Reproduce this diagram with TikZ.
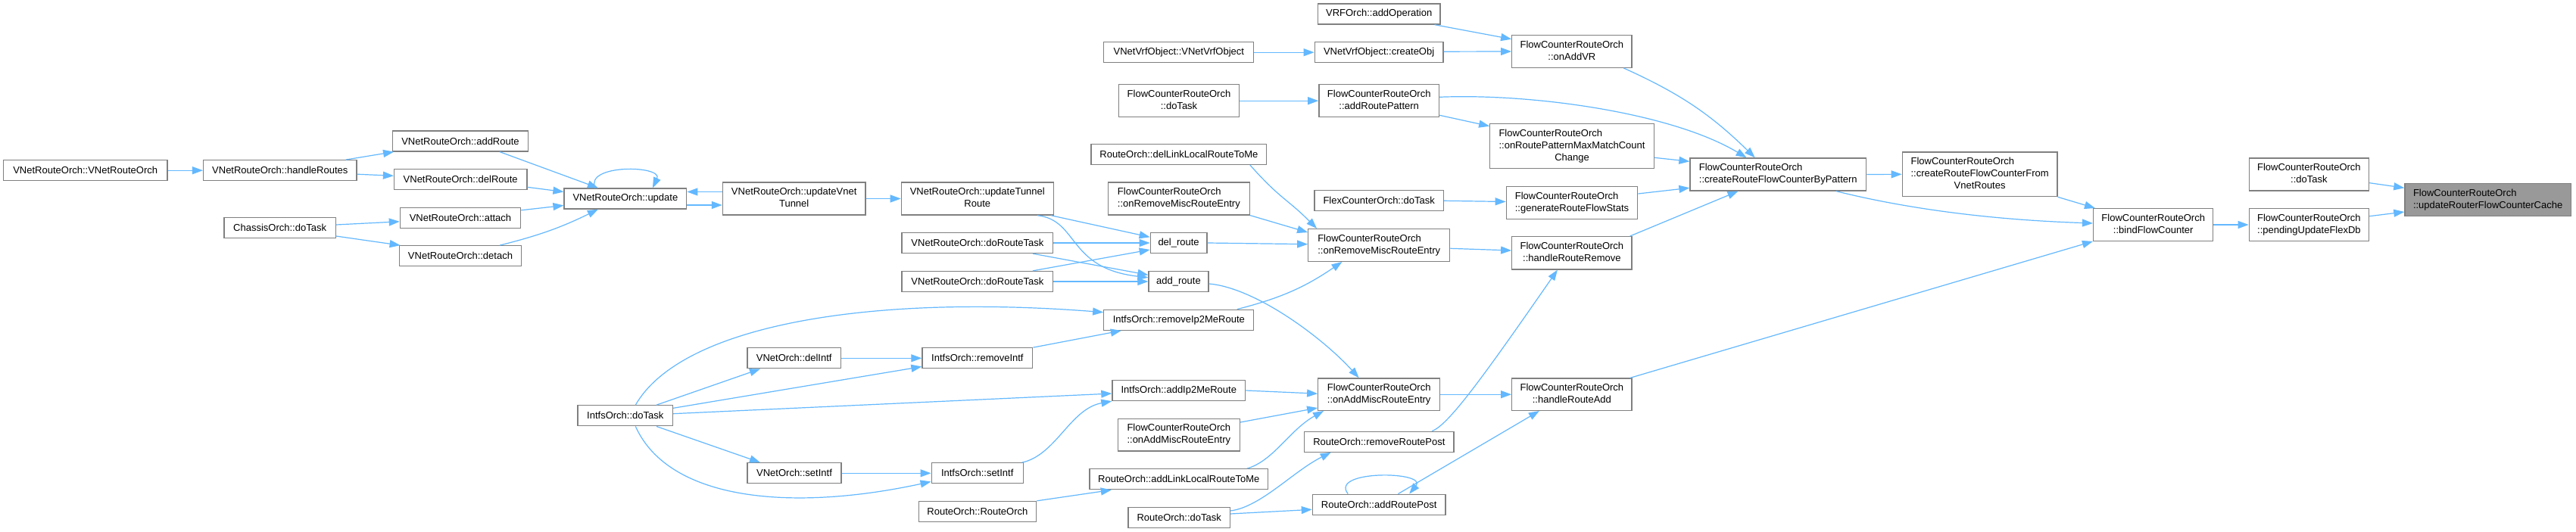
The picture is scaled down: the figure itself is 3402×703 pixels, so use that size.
\documentclass[tikz,border=0pt]{standalone}
\usepackage{fontspec}
\setmainfont{Liberation Sans}
\usetikzlibrary{arrows.meta}
\definecolor{edgeblue}{HTML}{63B8FF}
\definecolor{boxgray}{HTML}{808080}
\definecolor{tgtfill}{HTML}{999999}
\newcommand\twol[2]{\begin{tabular}{@{}l@{}}#1\\\multicolumn{1}{@{}c@{}}{#2}\end{tabular}}
\newcommand\threel[3]{\begin{tabular}{@{}l@{}}#1\\#2\\\multicolumn{1}{@{}c@{}}{#3}\end{tabular}}
\begin{document}
\begin{tikzpicture}[x=1pt,y=-1pt,
  box/.style={draw=boxgray,line width=1.3pt,fill=white,inner sep=0pt,
    font=\fontsize{13}{16}\selectfont,text=black},
  edge/.style={draw=edgeblue,line width=1.2pt,-{Triangle[length=14pt,width=10pt]}}]
\fill[white] (0,0) rectangle (3402,703);
\useasboundingbox (0,0) rectangle (3402,703);
% nodes
\node[box,minimum width=216.5pt,minimum height=27pt] (vnro) at (112.7,225.2) {VNetRouteOrch::VNetRouteOrch};
\node[box,minimum width=202.4pt,minimum height=27pt] (hr) at (369.8,225.2) {VNetRouteOrch::handleRoutes};
\node[box,minimum width=147.2pt,minimum height=26.6pt] (chassis) at (369.6,301) {ChassisOrch::doTask};
\node[box,minimum width=178.6pt,minimum height=27pt] (addr) at (608,186.5) {VNetRouteOrch::addRoute};
\node[box,minimum width=175.3pt,minimum height=27pt] (delr) at (608.2,237.3) {VNetRouteOrch::delRoute};
\node[box,minimum width=159.3pt,minimum height=27pt] (attach) at (608,287.8) {VNetRouteOrch::attach};
\node[box,minimum width=161.5pt,minimum height=27pt] (detach) at (608,338.3) {VNetRouteOrch::detach};
\node[box,minimum width=161.7pt,minimum height=27pt] (upd) at (825.9,262.5) {VNetRouteOrch::update};
\node[box,minimum width=188.6pt,minimum height=43pt] (uvt) at (1048.7,262.5) {\twol{VNetRouteOrch::updateVnet}{Tunnel}};
\node[box,minimum width=200.9pt,minimum height=43pt] (utr) at (1290.8,262.5) {\twol{VNetRouteOrch::updateTunnel}{Route}};
\node[box,minimum width=199.8pt,minimum height=27pt] (drt1) at (1290.9,321) {VNetRouteOrch::doRouteTask};
\node[box,minimum width=199.8pt,minimum height=27pt] (drt2) at (1290.9,372) {VNetRouteOrch::doRouteTask};
\node[box,minimum width=74.7pt,minimum height=27pt] (delroute) at (1556.6,321) {del\_route};
\node[box,minimum width=79pt,minimum height=27pt] (addroute) at (1556.5,372) {add\_route};
\node[box,minimum width=198pt,minimum height=27pt] (vvo) at (1556.8,69.2) {VNetVrfObject::VNetVrfObject};
\node[box,minimum width=159.1pt,minimum height=43pt] (fdt1) at (1557,133.2) {\twol{FlowCounterRouteOrch}{::doTask}};
\node[box,minimum width=231.7pt,minimum height=27pt] (dllr) at (1556.9,204) {RouteOrch::delLinkLocalRouteToMe};
\node[box,minimum width=187.2pt,minimum height=43pt] (ormL) at (1556.9,262.5) {\twol{FlowCounterRouteOrch}{::onRemoveMiscRouteEntry}};
\node[box,minimum width=198pt,minimum height=27pt] (rip) at (1556.8,422.8) {IntfsOrch::removeIp2MeRoute};
\node[box,minimum width=145.8pt,minimum height=27pt] (rintf) at (1290.9,473.3) {IntfsOrch::removeIntf};
\node[box,minimum width=175.7pt,minimum height=27pt] (aip) at (1556.8,516) {IntfsOrch::addIp2MeRoute};
\node[box,minimum width=160.9pt,minimum height=42.7pt] (oamL) at (1556.8,574.7) {\twol{FlowCounterRouteOrch}{::onAddMiscRouteEntry}};
\node[box,minimum width=121pt,minimum height=27pt] (isi) at (1290.7,625.3) {IntfsOrch::setIntf};
\node[box,minimum width=235.7pt,minimum height=27pt] (allr) at (1556.8,633.3) {RouteOrch::addLinkLocalRouteToMe};
\node[box,minimum width=155.4pt,minimum height=27pt] (ror) at (1290.9,676) {RouteOrch::RouteOrch};
\node[box,minimum width=134.3pt,minimum height=27pt] (rdt) at (1557.2,684) {RouteOrch::doTask};
\node[box,minimum width=125.4pt,minimum height=27pt] (idt) at (825.8,549.3) {IntfsOrch::doTask};
\node[box,minimum width=123.6pt,minimum height=27pt] (vdi) at (1048.7,473.3) {VNetOrch::delIntf};
\node[box,minimum width=124pt,minimum height=27pt] (vsi) at (1049,625.3) {VNetOrch::setIntf};
\node[box,minimum width=161.7pt,minimum height=27pt] (vrf) at (1821.2,18.5) {VRFOrch::addOperation};
\node[box,minimum width=169.8pt,minimum height=27pt] (vco) at (1821.1,69.2) {VNetVrfObject::createObj};
\node[box,minimum width=158.3pt,minimum height=42.6pt] (oavr) at (2075.9,68) {\twol{FlowCounterRouteOrch}{::onAddVR}};
\node[box,minimum width=158.7pt,minimum height=43pt] (arp) at (1821.2,133.2) {\twol{FlowCounterRouteOrch}{::addRoutePattern}};
\node[box,minimum width=216.5pt,minimum height=59pt] (orpm) at (2076,193.2) {\threel{FlowCounterRouteOrch}{::onRoutePatternMaxMatchCount}{Change}};
\node[box,minimum width=170.5pt,minimum height=27pt] (fcdt) at (1821.2,265.3) {FlexCounterOrch::doTask};
\node[box,minimum width=173.5pt,minimum height=42.6pt] (grfs) at (2076,268) {\twol{FlowCounterRouteOrch}{::generateRouteFlowStats}};
\node[box,minimum width=186.9pt,minimum height=42.6pt] (orm) at (1821.2,324) {\twol{FlowCounterRouteOrch}{::onRemoveMiscRouteEntry}};
\node[box,minimum width=158.3pt,minimum height=43.3pt] (hrr) at (2075.9,334.3) {\twol{FlowCounterRouteOrch}{::handleRouteRemove}};
\node[box,minimum width=160.9pt,minimum height=42.3pt] (oam) at (1821.2,521.2) {\twol{FlowCounterRouteOrch}{::onAddMiscRouteEntry}};
\node[box,minimum width=158.3pt,minimum height=42.3pt] (hra) at (2075.9,521.2) {\twol{FlowCounterRouteOrch}{::handleRouteAdd}};
\node[box,minimum width=197.6pt,minimum height=27pt] (rrp) at (1821.3,583.7) {RouteOrch::removeRoutePost};
\node[box,minimum width=175.7pt,minimum height=27pt] (arpost) at (1821.2,666.7) {RouteOrch::addRoutePost};
\node[box,minimum width=232.6pt,minimum height=43pt] (crbp) at (2348.3,230.5) {\twol{FlowCounterRouteOrch}{::createRouteFlowCounterByPattern}};
\node[box,minimum width=204.6pt,minimum height=58.7pt] (crfv) at (2614.6,230.3) {\threel{FlowCounterRouteOrch}{::createRouteFlowCounterFrom}{VnetRoutes}};
\node[box,minimum width=158.2pt,minimum height=42.6pt] (bfc) at (2843.7,297) {\twol{FlowCounterRouteOrch}{::bindFlowCounter}};
\node[box,minimum width=158.3pt,minimum height=43pt] (fdt2) at (3049.4,230.5) {\twol{FlowCounterRouteOrch}{::doTask}};
\node[box,minimum width=158.3pt,minimum height=42.6pt] (pufd) at (3049.4,297) {\twol{FlowCounterRouteOrch}{::pendingUpdateFlexDb}};
\node[box,fill=tgtfill,minimum width=219.4pt,minimum height=42.6pt] (tgt) at (3285.6,264) {\twol{FlowCounterRouteOrch}{::updateRouterFlowCounterCache}};
% edges
\draw[edge] (vnro.east) -- (hr.west);
\draw[edge] ([shift={(87,0)}]hr.north) -- ([shift={(2,0)}]addr.south west);
\draw[edge] ([shift={(0,5)}]hr.east) -- ([shift={(0,-5)}]delr.west);
\draw[edge] ([shift={(0,-4)}]chassis.east) -- ([shift={(0,5)}]attach.west);
\draw[edge] ([shift={(0,11)}]chassis.east) -- ([shift={(2,0)}]detach.north west);
\draw[edge] ([shift={(52,0)}]addr.south) -- ([shift={(-36,0)}]upd.north);
\draw[edge] ([shift={(0,10)}]delr.east) -- ([shift={(0,-9)}]upd.west);
\draw[edge] ([shift={(0,-10)}]attach.east) -- ([shift={(0,9)}]upd.west);
\draw[edge] ([shift={(52,0)}]detach.north) to[bend right=6] ([shift={(-36,0)}]upd.south);
\draw[edge] ([shift={(-40,0)}]upd.north) .. controls +(-14,-32) and +(14,-30) .. ([shift={(36,0)}]upd.north);
\draw[edge] ([shift={(0,-9)}]uvt.west) -- ([shift={(0,-9)}]upd.east);
\draw[edge] ([shift={(0,8.5)}]upd.east) -- ([shift={(0,8.5)}]uvt.west);
\draw[edge] (uvt.east) -- (utr.west);
\draw[edge] ([shift={(97,0)}]utr.south) -- ([shift={(0,-7.7)}]delroute.west);
\draw[edge] ([shift={(79,0)}]utr.south) .. controls +(55,6) and +(-107,-12) .. ([shift={(0,-5.3)}]addroute.west);
\draw[edge] (drt1.east) -- (delroute.west);
\draw[edge] ([shift={(73,0)}]drt1.south) -- ([shift={(0,-8.7)}]addroute.west);
\draw[edge] ([shift={(73,0)}]drt2.north) -- ([shift={(0,9)}]delroute.west);
\draw[edge] (drt2.east) -- (addroute.west);
\draw[edge] (delroute.east) -- ([shift={(0,-1.3)}]orm.west);
\draw[edge] ([shift={(0,3)}]addroute.east) .. controls +(60,5) and +(-50,-55) .. ([shift={(-26.5,0)}]oam.north);
\draw[edge] ([shift={(94,0)}]dllr.south) .. controls +(40,45) and +(-40,-40) .. ([shift={(12,0)}]orm.north west);
\draw[edge] (ormL.south east) -- ([shift={(0,5)}]orm.north west);
\draw[edge] ([shift={(77,0)}]rip.north) to[bend right=10] ([shift={(-48.7,0)}]orm.south);
\draw[edge] ([shift={(13.5,0)}]idt.north) .. controls +(61,-106) and +(-308,-24) .. ([shift={(0,4)}]rip.north west);
\draw[edge] ([shift={(41.2,0)}]idt.north) -- ([shift={(-44.7,0)}]vdi.south);
\draw[edge] ([shift={(0,-10)}]idt.east) -- ([shift={(0,-3)}]rintf.south west);
\draw[edge] ([shift={(0,-2.6)}]idt.east) -- ([shift={(0,4)}]aip.west);
\draw[edge] ([shift={(41.2,0)}]idt.south) -- ([shift={(-45,0)}]vsi.north);
\draw[edge] ([shift={(13.5,0)}]idt.south) .. controls +(45,100) and +(-180,39) .. ([shift={(0,-3)}]isi.south west);
\draw[edge] (vdi.east) -- (rintf.west);
\draw[edge] (rintf.north east) -- ([shift={(-76,0)}]rip.south);
\draw[edge] (vsi.east) -- (isi.west);
\draw[edge] ([shift={(-2,0)}]isi.north east) .. controls +(45,-10) and +(-55,10) .. (aip.south west);
\draw[edge] (aip.east) -- ([shift={(0,-1)}]oam.west);
\draw[edge] ([shift={(0,-16.7)}]oamL.east) -- ([shift={(0,17.8)}]oam.west);
\draw[edge] ([shift={(90,0)}]allr.north) .. controls +(35,-10) and +(-45,25) .. ([shift={(8,0)}]oam.south west);
\draw[edge] (ror.north east) -- ([shift={(-89,0)}]allr.south);
\draw[edge] ([shift={(0,-9)}]rdt.east) .. controls +(40,-5) and +(-50,25) .. ([shift={(-63.6,0)}]rrp.south);
\draw[edge] ([shift={(0,-5)}]rdt.east) -- ([shift={(0,6.6)}]arpost.west);
\draw[edge] ([shift={(-41,0)}]arpost.north) .. controls +(-25,-32) and +(25,-30) .. ([shift={(40,0)}]arpost.north);
\draw[edge] ([shift={(25.3,0)}]arpost.north) -- ([shift={(-43,0)}]hra.south);
\draw[edge] ([shift={(70,0)}]rrp.north) .. controls +(22,-8) and +(-95,137) .. ([shift={(-19,0)}]hrr.south);
\draw[edge] (oam.east) -- (hra.west);
\draw[edge] ([shift={(0,4.3)}]orm.east) -- ([shift={(0,-3.3)}]hrr.west);
\draw[edge] ([shift={(73.4,0)}]vrf.south) -- ([shift={(0,-16.3)}]oavr.west);
\draw[edge] (vvo.east) -- (vco.west);
\draw[edge] ([shift={(0,-1)}]vco.east) -- (oavr.west);
\draw[edge] (fdt1.east) -- (arp.west);
\draw[edge] ([shift={(0,19.1)}]arp.east) -- ([shift={(0,-26.5)}]orpm.west);
\draw[edge] ([shift={(0,-4.9)}]arp.east) .. controls +(120,-5) and +(-100,-60) .. ([shift={(-41.7,0)}]crbp.north);
\draw[edge] ([shift={(68.4,0)}]oavr.south) to[bend left=10] ([shift={(-30.6,0)}]crbp.north);
\draw[edge] ([shift={(0,15.1)}]orpm.east) -- ([shift={(0,-17.2)}]crbp.west);
\draw[edge] (fcdt.east) -- ([shift={(0,-1.5)}]grfs.west);
\draw[edge] ([shift={(0,-12)}]grfs.east) -- ([shift={(0,17.8)}]crbp.west);
\draw[edge] ([shift={(-3,0)}]hrr.north east) -- ([shift={(-52.8,0)}]crbp.south);
\draw[edge] (crbp.east) -- (crfv.west);
\draw[edge] ([shift={(76.7,0)}]crbp.south) .. controls +(80,20) and +(-150,-5) .. ([shift={(0,-2)}]bfc.west);
\draw[edge] (crfv.south east) -- ([shift={(3,0)}]bfc.north west);
\draw[edge] ([shift={(-3,0)}]hra.north east) -- (bfc.south west);
\draw[edge] (bfc.east) -- (pufd.west);
\draw[edge] ([shift={(0,11.2)}]fdt2.east) -- ([shift={(0,-15.7)}]tgt.west);
\draw[edge] ([shift={(0,-11.3)}]pufd.east) -- ([shift={(0,16)}]tgt.west);
\end{tikzpicture}
\end{document}
